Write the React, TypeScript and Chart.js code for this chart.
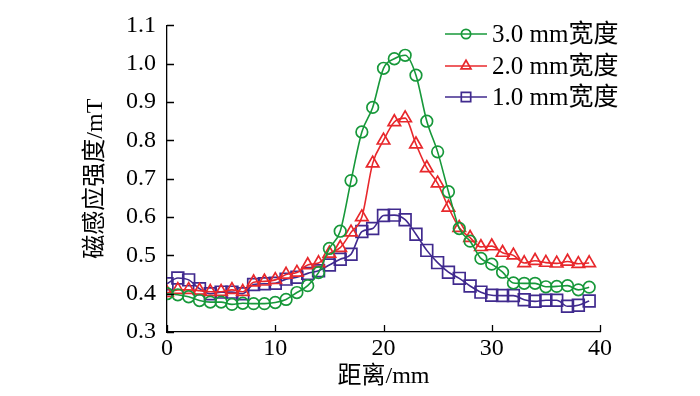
import React, { useEffect, useRef } from "react";
import { Chart, registerables } from "chart.js";
import { drawPoint } from "chart.js/helpers";

Chart.register(...registerables);

const distances = [
  0, 1, 2, 3, 4, 5, 6, 7, 8, 9, 10, 11, 12, 13, 14, 15, 16, 17, 18, 19,
  20, 21, 22, 23, 24, 25, 26, 27, 28, 29, 30, 31, 32, 33, 34, 35, 36, 37, 38, 39,
];

const width30 = [
  0.400, 0.397, 0.392, 0.382, 0.378, 0.378, 0.372, 0.375, 0.374, 0.374,
  0.377, 0.385, 0.403, 0.421, 0.455, 0.518, 0.563, 0.695, 0.822, 0.886,
  0.988, 1.013, 1.022, 0.970, 0.850, 0.770, 0.666, 0.570, 0.537, 0.492,
  0.477, 0.456, 0.428, 0.427, 0.427, 0.418, 0.419, 0.421, 0.410, 0.417,
];

const width20 = [
  0.402, 0.410, 0.410, 0.408, 0.405, 0.405, 0.410, 0.405, 0.430, 0.432,
  0.436, 0.450, 0.455, 0.475, 0.480, 0.505, 0.520, 0.560, 0.600, 0.740,
  0.800, 0.848, 0.858, 0.790, 0.728, 0.688, 0.625, 0.572, 0.546, 0.522,
  0.524, 0.507, 0.500, 0.480, 0.486, 0.481, 0.479, 0.484, 0.478, 0.480,
];

const width10 = [
  0.426, 0.441, 0.436, 0.413, 0.400, 0.404, 0.404, 0.400, 0.424, 0.426,
  0.427, 0.438, 0.443, 0.453, 0.460, 0.475, 0.490, 0.503, 0.562, 0.570,
  0.604, 0.605, 0.593, 0.555, 0.513, 0.481, 0.456, 0.440, 0.420, 0.404,
  0.396, 0.395, 0.395, 0.384, 0.380, 0.383, 0.383, 0.367, 0.370, 0.381,
];

const seriesLabels = ["3.0 mm宽度", "2.0 mm宽度", "1.0 mm宽度"];
const xTitle = "距离/mm";
const yTitle = "磁感应强度/mT";

const GREEN = "#17983a";
const RED = "#e8282c";
const PURPLE = "#402a8e";

const FONT_FAMILY = "'Liberation Serif', 'Noto Sans CJK SC', serif";

const lineLegend = {
  id: "lineLegend",
  afterDatasetsDraw(chart: any) {
    const ctx = chart.ctx;
    const rows = [34, 66, 97];
    const x0 = 445;
    const x1 = 487;
    const tx = 492;
    ctx.save();
    chart.data.datasets.forEach((ds: any, i: number) => {
      const y = rows[i];
      ctx.strokeStyle = ds.borderColor;
      ctx.lineWidth = ds.borderWidth;
      ctx.beginPath();
      ctx.moveTo(x0, y);
      ctx.lineTo(x1, y);
      ctx.stroke();
      ctx.strokeStyle = ds.pointBorderColor;
      ctx.fillStyle = "rgba(0,0,0,0)";
      ctx.lineWidth = ds.pointBorderWidth;
      drawPoint(
        ctx,
        { pointStyle: ds.pointStyle, radius: ds.pointRadius * 0.8, borderWidth: ds.pointBorderWidth, rotation: 0 },
        (x0 + x1) / 2,
        y
      );
      ctx.fillStyle = "#000";
      ctx.font = `25px ${FONT_FAMILY}`;
      ctx.textBaseline = "middle";
      ctx.textAlign = "left";
      ctx.fillText(ds.label, tx, y + 1);
    });
    ctx.restore();
  },
};

const inwardTicks = {
  id: "inwardTicks",
  afterDraw(chart: any) {
    const ctx = chart.ctx;
    const area = chart.chartArea;
    const xs = chart.scales.x;
    const ys = chart.scales.y;
    ctx.save();
    ctx.strokeStyle = "#000";
    ctx.lineWidth = 1.3;
    ctx.beginPath();
    xs.ticks.forEach((t: any) => {
      const px = Math.round(xs.getPixelForValue(t.value)) + 0.5;
      ctx.moveTo(px, area.bottom);
      ctx.lineTo(px, area.bottom - 7);
    });
    ys.ticks.forEach((t: any) => {
      const py = Math.round(ys.getPixelForValue(t.value)) + 0.5;
      ctx.moveTo(area.left, py);
      ctx.lineTo(area.left + 7, py);
    });
    ctx.stroke();
    ctx.restore();
  },
};

export default function App() {
  const canvasRef = useRef<HTMLCanvasElement | null>(null);

  useEffect(() => {
    if (!canvasRef.current) return;
    const mk = (vals: number[]) => distances.map((d, i) => ({ x: d, y: vals[i] }));
    const tickFont = { family: FONT_FAMILY, size: 24 };
    const base = {
      fill: false,
      borderWidth: 1.6,
      pointBorderWidth: 1.7,
      pointBackgroundColor: "rgba(0,0,0,0)",
      tension: 0.4,
      cubicInterpolationMode: "monotone" as const,
    };
    const chart = new Chart(canvasRef.current, {
      type: "line",
      data: {
        datasets: [
          {
            ...base,
            label: seriesLabels[0],
            data: mk(width30),
            borderColor: GREEN,
            pointBorderColor: GREEN,
            pointStyle: "circle",
            pointRadius: 5.8,
          },
          {
            ...base,
            label: seriesLabels[1],
            data: mk(width20),
            borderColor: RED,
            pointBorderColor: RED,
            pointStyle: "triangle",
            pointRadius: 7.2,
          },
          {
            ...base,
            label: seriesLabels[2],
            data: mk(width10),
            borderColor: PURPLE,
            pointBorderColor: PURPLE,
            pointStyle: "rect",
            pointRadius: 8.3,
          },
        ],
      },
      options: {
        animation: false,
        responsive: true,
        maintainAspectRatio: false,
        layout: { padding: { left: 0, right: 100, top: 21, bottom: 0 } },
        plugins: {
          legend: { display: false },
          tooltip: { enabled: false },
        },
        scales: {
          x: {
            type: "linear",
            min: 0,
            max: 40,
            ticks: { stepSize: 10, font: tickFont, color: "#000", padding: 2, maxRotation: 0 },
            grid: { display: false, drawTicks: false },
            border: { display: true, color: "#000", width: 1.3 },
            title: {
              display: true,
              text: xTitle,
              color: "#000",
              font: { family: FONT_FAMILY, size: 24 },
              padding: { top: 0, bottom: 5 },
            },
            afterFit: (s: any) => {
              s.height = 64;
            },
          },
          y: {
            type: "linear",
            min: 0.3,
            max: 1.1,
            ticks: {
              stepSize: 0.1,
              font: tickFont,
              color: "#000",
              padding: 11,
              callback: (v: any) => Number(v).toFixed(1),
            },
            grid: { display: false, drawTicks: false },
            border: { display: true, color: "#000", width: 1.3 },
            title: {
              display: true,
              text: yTitle,
              color: "#000",
              font: { family: FONT_FAMILY, size: 24 },
              padding: { top: 81, bottom: 0 },
            },
            afterFit: (s: any) => {
              s.width = 167;
            },
          },
        },
      },
      plugins: [lineLegend, inwardTicks],
    } as any);
    return () => chart.destroy();
  }, []);

  return (
    <div style={{ position: "fixed", left: 0, top: 0, width: 700, height: 396, background: "#fff" }}>
      <canvas ref={canvasRef} />
    </div>
  );
}
